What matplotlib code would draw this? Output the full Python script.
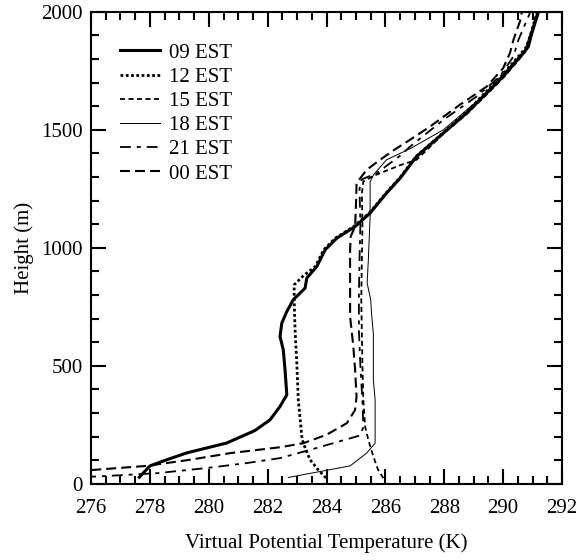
import matplotlib
matplotlib.use("Agg")
import matplotlib.pyplot as plt
from matplotlib.ticker import MultipleLocator

plt.rcParams['font.family'] = ['Liberation Serif', 'DejaVu Serif']
plt.rcParams['font.size'] = 15

# virtual potential temperature (K) and height (m)
theta_09 = [277.64, 278.0, 278.57, 279.25, 280.61, 281.57, 282.08, 282.42, 282.65, 282.59,
            282.53, 282.42, 282.48, 282.65, 282.87, 283.27, 283.33, 283.67, 283.95, 284.35,
            284.97, 285.48, 286.04, 286.50, 287.06, 287.97, 288.76, 289.10, 289.55, 290.0,
            290.69, 290.86, 290.95, 291.19]
z_09 = [28, 76, 102, 131, 173, 226, 271, 328, 377, 483,
        568, 624, 681, 730, 780, 829, 872, 921, 991, 1041,
        1090, 1147, 1232, 1295, 1387, 1486, 1571, 1613, 1669, 1726,
        1825, 1853, 1900, 1995]

theta_12 = [283.98, 283.72, 283.44, 283.21, 283.16, 283.04, 282.99, 282.93, 282.90, 282.90,
            283.2, 283.62, 283.90, 284.30, 284.92, 285.45, 286.02, 286.48, 287.04, 287.95,
            288.72, 289.05, 289.48, 289.93, 290.62, 290.80, 290.92, 291.15]
z_12 = [25, 59, 102, 172, 200, 356, 511, 653, 780, 843,
        880, 921, 991, 1041, 1090, 1147, 1232, 1295, 1387, 1486,
        1571, 1613, 1669, 1726, 1825, 1853, 1900, 1995]

theta_15 = [285.93, 285.75, 285.59, 285.42, 285.31, 285.25, 285.22, 285.2, 285.18, 285.2,
            285.22, 285.2, 285.25, 285.6, 286.0, 286.5, 287.06, 288.0, 288.8, 289.6,
            290.05, 290.72, 290.97, 291.17]
z_15 = [24, 60, 116, 186, 243, 356, 497, 638, 780, 950,
        1100, 1230, 1281, 1305, 1325, 1350, 1373, 1486, 1571, 1669,
        1726, 1825, 1900, 1995]

theta_18 = [282.70, 284.80, 285.36, 285.65, 285.65, 285.59, 285.59, 285.53, 285.50, 285.38,
            285.42, 285.48, 285.48, 285.6, 286.04, 286.84, 287.97, 289.10, 289.67, 290.23,
            290.74, 291.02, 291.14]
z_18 = [27, 76, 130, 172, 356, 441, 636, 720, 780, 850,
        949, 1133, 1280, 1310, 1373, 1420, 1500, 1620, 1691, 1768,
        1839, 1945, 1995]

theta_21 = [275.8, 276.19, 278.23, 279.93, 281.29, 282.42, 283.44, 285.14, 285.25, 285.22,
            285.15, 285.1, 285.1, 285.12, 285.15, 285.12, 285.2, 285.7, 286.5, 286.84,
            287.97, 289.10, 289.89, 290.35, 290.52, 290.69, 290.91]
z_21 = [30, 31, 45, 67, 88, 109, 144, 205, 240, 350,
        500, 650, 800, 950, 1100, 1250, 1290, 1316, 1390, 1429,
        1542, 1641, 1726, 1811, 1881, 1931, 1995]

theta_00 = [275.5, 276.08, 277.89, 279.36, 280.72, 282.42, 283.21, 284.0, 284.69, 284.97,
            285.02, 284.97, 284.91, 284.80, 284.80, 284.80, 284.82, 284.97, 285.0, 285.02,
            285.36, 285.82, 286.3, 286.84, 287.52, 288.53, 289.44, 290.0, 290.23, 290.35,
            290.57, 290.63]
z_00 = [52, 59, 76, 102, 130, 155, 172, 208, 257, 313,
        370, 483, 582, 709, 850, 991, 1048, 1090, 1180, 1274,
        1330, 1373, 1415, 1458, 1514, 1606, 1683, 1761, 1825, 1881,
        1959, 1995]

labels = ['09 EST', '12 EST', '15 EST', '18 EST', '21 EST', '00 EST']

fig = plt.figure(figsize=(5.8, 5.6), dpi=100)
ax = fig.add_axes([0.157, 0.136, 0.812, 0.843])

ax.plot(theta_09, z_09, color='black', lw=2.2, ls='-', label=labels[0])
ax.plot(theta_12, z_12, color='black', lw=2.0, ls=(0, (1, 0.9)), label=labels[1])
ax.plot(theta_15, z_15, color='black', lw=1.3, ls=(0, (2.8, 1.9)), label=labels[2])
ax.plot(theta_18, z_18, color='black', lw=0.7, ls='-', label=labels[3])
ax.plot(theta_21, z_21, color='black', lw=1.3, ls=(0, (6.0, 3.3, 2.2, 3.3)), label=labels[4])
ax.plot(theta_00, z_00, color='black', lw=1.5, ls=(0, (4.8, 2.4)), label=labels[5])

ax.set_xlim(276, 292)
ax.set_ylim(0, 2000)
ax.xaxis.set_major_locator(MultipleLocator(2))
ax.xaxis.set_minor_locator(MultipleLocator(0.5))
ax.yaxis.set_major_locator(MultipleLocator(500))
ax.yaxis.set_minor_locator(MultipleLocator(100))
ax.tick_params(which='both', direction='in', top=True, right=True, width=1.5)
ax.tick_params(which='major', length=11)
ax.tick_params(which='minor', length=6)
ax.tick_params(axis='x', pad=11)
ax.tick_params(axis='y', pad=6)
for sp in ax.spines.values():
    sp.set_linewidth(1.5)

ax.set_xlabel('Virtual Potential Temperature (K)', labelpad=11)
ax.set_ylabel('Height (m)', labelpad=5)

ax.legend(loc='upper left', bbox_to_anchor=(0.035, 0.96), frameon=False,
          handlelength=1.9, handletextpad=0.45, labelspacing=0.22, borderaxespad=0.2)

fig.savefig('out.png', dpi=100)
